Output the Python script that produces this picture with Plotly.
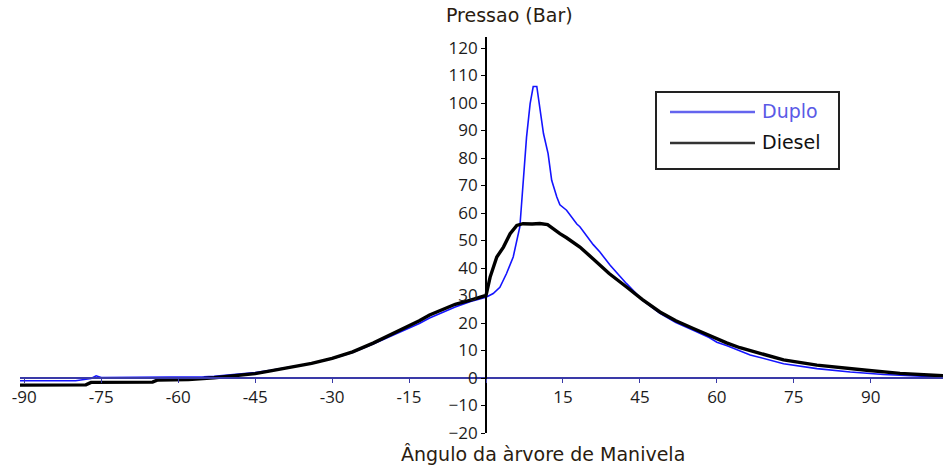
import plotly.graph_objects as go

# Crank angle (degrees) and cylinder pressure (bar) for each fuel mode
duplo_angle = [-91, -80, -77, -76, -75, -70, -60, -55, -53, -49, -45, -42, -38, -34, -30,
               -26, -22, -18.5, -15.5, -13, -11, -8, -6, -3, -1, 0, 1.4, 2.7, 4.0, 5.3,
               6.6, 7.3, 7.9, 8.6, 9.2, 9.9, 10.5, 11.2, 12.1, 12.8, 13.8, 14.4, 15.7,
               17.7, 18.3, 20.9, 22.2, 24.2, 27.4, 30.5, 33.9, 37, 40.4, 43.5, 45, 47,
               51.5, 55, 58, 64.5, 71, 77.5, 82, 86, 89.1]
duplo_press = [-1.0, -1.0, -0.2, 0.8, 0.2, 0.2, 0.2, 0.4, 0.6, 1.2, 2.0, 2.8, 4.0, 5.3, 7.0,
               9.3, 12.4, 15.3, 17.8, 19.8, 21.8, 24.3, 25.8, 27.8, 29.0, 29.4, 30.7, 33.0,
               38.0, 44.0, 55.0, 73.0, 87.6, 99.8, 106.0, 106.0, 97.3, 88.9, 81.6, 71.9,
               65.8, 63.0, 61.0, 56.0, 55.0, 48.5, 45.8, 41.0, 34.3, 28.3, 23.5, 20.2,
               17.4, 14.7, 13.0, 11.7, 8.4, 6.6, 5.2, 3.4, 2.2, 1.3, 0.9, 0.4, 0.3]

diesel_angle = [-91, -85, -78, -77, -70, -65, -64, -58, -53, -49, -45, -42, -38, -34, -30,
                -26, -22, -18.5, -15.5, -13, -11, -8, -6, -3, -1, 0, 0.8, 2.1, 3.4, 4.7,
                6, 7.2, 9, 10.5, 12, 13, 14.4, 15.7, 18.3, 20.9, 24, 27.4, 30.5, 33.9,
                37, 40.4, 43.5, 45, 46.9, 49.5, 52.8, 58, 64.5, 70, 74.2, 80.7, 85, 89.1]
diesel_press = [-2.6, -2.6, -2.5, -1.6, -1.6, -1.5, -0.7, -0.6, 0.1, 0.8, 1.6, 2.6, 3.8,
                5.3, 7.1, 9.5, 12.7, 15.8, 18.6, 20.8, 22.9, 25.4, 26.8, 28.3, 29.4, 30.0,
                36.7, 44.0, 47.6, 52.5, 55.5, 56.1, 56.0, 56.2, 55.8, 54.3, 52.5, 51.0,
                47.6, 43.3, 38.0, 33.1, 28.5, 24.0, 20.8, 18.0, 15.5, 14.0, 12.8, 11.0,
                9.2, 6.6, 4.7, 3.5, 2.8, 1.7, 1.3, 0.8]

# Tick positions along the angle axis and the labels printed under them
x_tickvals = [-90, -75, -60, -45, -30, -15, 0, 15, 30, 45, 60, 75]
x_ticktext = ["-90", "-75", "-60", "-45", "-30", "-15", "", "15", "45", "60", "75", "90"]
y_tickvals = list(range(-20, 121, 10))

W, H = 943, 467
ML, MR, MT, MB = 20, 0, 37, 34
X_RANGE = [-90.84, 89.08]
Y_RANGE = [-20, 124]
PW, PH = W - ML - MR, H - MT - MB

NUM_FONT = "Open Sans, Noto Sans, sans-serif"
TEXT_FONT = "DejaVu Sans, Verdana, sans-serif"
TXT = "#1c1c1c"


def px_x(px):
    return (px - ML) / PW


def px_y(py):
    return (H - MB - py) / PH


fig = go.Figure()
fig.add_trace(go.Scatter(x=duplo_angle, y=duplo_press, mode="lines", name="Duplo",
                         line=dict(color="#1414ff", width=1.6), showlegend=False))
fig.add_trace(go.Scatter(x=diesel_angle, y=diesel_press, mode="lines", name="Diesel",
                         line=dict(color="#000000", width=3.4), showlegend=False))

x_pos = (0 - Y_RANGE[0]) / (Y_RANGE[1] - Y_RANGE[0])
y_pos = (0 - X_RANGE[0]) / (X_RANGE[1] - X_RANGE[0])

fig.update_layout(
    width=W, height=H,
    margin=dict(l=ML, r=MR, t=MT, b=MB, pad=0),
    paper_bgcolor="white", plot_bgcolor="white",
    font=dict(family=NUM_FONT, size=17, color=TXT),
    xaxis=dict(range=X_RANGE, anchor="free", position=x_pos,
               showgrid=False, zeroline=False,
               showline=True, linecolor="#3a3aa8", linewidth=2,
               ticks="outside", ticklen=4, tickwidth=1, tickcolor="#3a3aa8",
               tickvals=x_tickvals, ticktext=x_ticktext,
               tickfont=dict(family=NUM_FONT, size=17, color=TXT)),
    yaxis=dict(range=Y_RANGE, anchor="free", position=y_pos,
               showgrid=False, zeroline=False,
               showline=True, linecolor="#000000", linewidth=2,
               ticks="outside", ticklen=4, tickwidth=1, tickcolor="#000000",
               tickvals=y_tickvals,
               tickfont=dict(family=NUM_FONT, size=17, color=TXT)),
)

# Axis titles
fig.add_annotation(text="Pressao (Bar)", xref="paper", yref="paper",
                   x=px_x(509), y=px_y(15), xanchor="center", yanchor="middle",
                   showarrow=False, font=dict(family=TEXT_FONT, size=19, color="#2a1c10"))
fig.add_annotation(text="Ângulo da àrvore de Manivela", xref="paper", yref="paper",
                   x=px_x(543), y=px_y(454), xanchor="center", yanchor="middle",
                   showarrow=False, font=dict(family=TEXT_FONT, size=19, color="#2a1c10"))

# Legend box
fig.add_shape(type="rect", xref="paper", yref="paper",
              x0=px_x(656), x1=px_x(839), y0=px_y(92), y1=px_y(169),
              line=dict(color="#222222", width=2), fillcolor="white", layer="below")
fig.add_shape(type="line", xref="paper", yref="paper",
              x0=px_x(670), x1=px_x(755), y0=px_y(112), y1=px_y(112),
              line=dict(color="#6464ee", width=2.5))
fig.add_shape(type="line", xref="paper", yref="paper",
              x0=px_x(670), x1=px_x(755), y0=px_y(143), y1=px_y(143),
              line=dict(color="#333333", width=2.5))
fig.add_annotation(text="Duplo", xref="paper", yref="paper",
                   x=px_x(760), y=px_y(111), xanchor="left", yanchor="middle",
                   showarrow=False, font=dict(family=TEXT_FONT, size=19, color="#5a5ae6"))
fig.add_annotation(text="Diesel", xref="paper", yref="paper",
                   x=px_x(760), y=px_y(142), xanchor="left", yanchor="middle",
                   showarrow=False, font=dict(family=TEXT_FONT, size=19, color="#111111"))

fig.write_html("out.html")
